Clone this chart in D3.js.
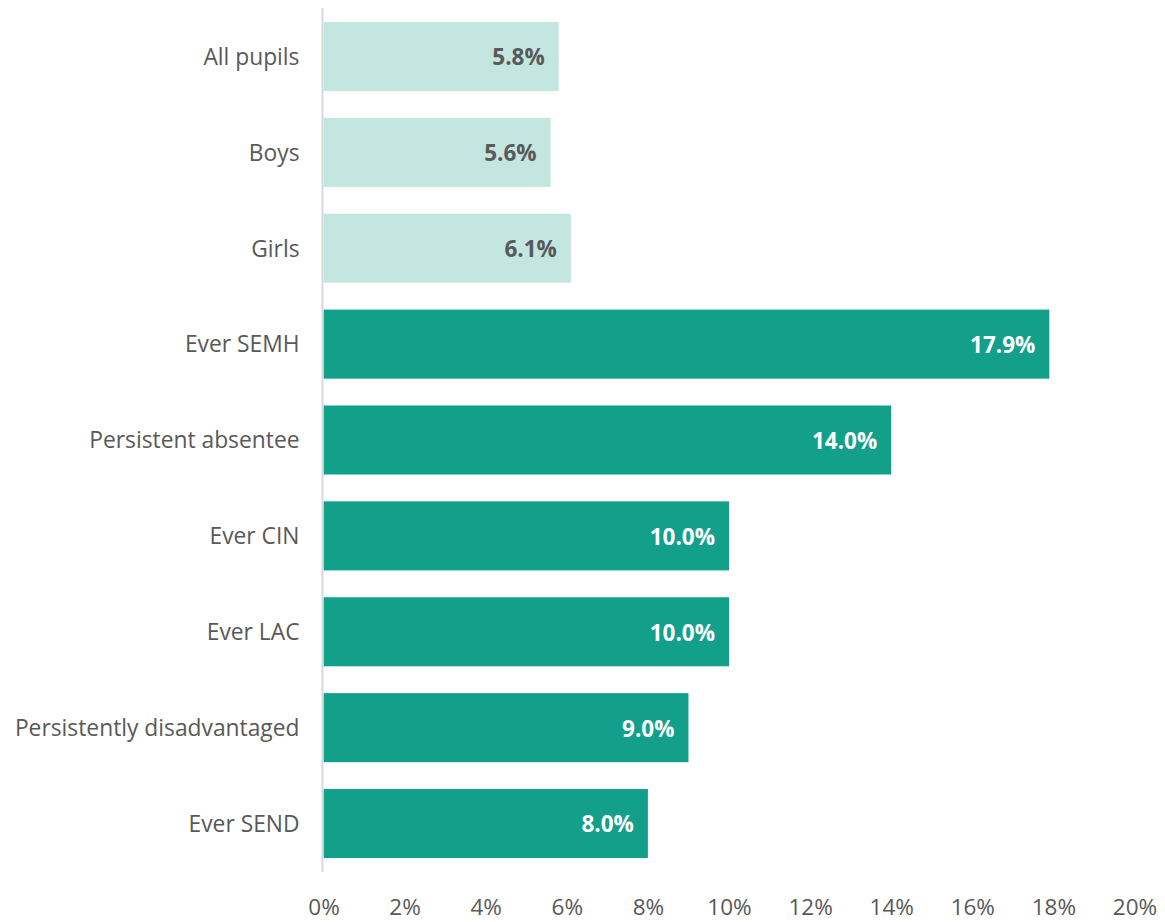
<!DOCTYPE html>
<html>
<head>
<meta charset="utf-8">
<script src="https://cdn.jsdelivr.net/npm/d3@7"></script>
<style>
  html, body { margin: 0; padding: 0; background: #fff; }
  svg { display: block; font-family: "Open Sans", Lato, sans-serif; }
</style>
</head>
<body>
<svg id="chart" width="1165" height="922"></svg>
<script>
// Share of pupils in each group (percent)
const categories = ["All pupils", "Boys", "Girls", "Ever SEMH", "Persistent absentee",
                    "Ever CIN", "Ever LAC", "Persistently disadvantaged", "Ever SEND"];
const values = [5.8, 5.6, 6.1, 17.9, 14.0, 10.0, 10.0, 9.0, 8.0];
const groups = ["all", "all", "all", "cohort", "cohort", "cohort", "cohort", "cohort", "cohort"];
const tickValues = [0, 2, 4, 6, 8, 10, 12, 14, 16, 18, 20];

const fillColor = { all: "#C4E6E0", cohort: "#13A08A" };
const labelColor = { all: "#595959", cohort: "#FFFFFF" };
const fontStack = "'Open Sans', Lato, sans-serif";

const svg = d3.select("#chart");
const x0 = 323.5, x1 = 1134.5;

const x = d3.scaleLinear().domain([0, 20]).range([x0, x1]);
const y = d3.scaleBand().domain(categories).range([8.5, 871.5])
  .paddingInner(0.28).paddingOuter(0.14);

const rows = categories.map((c, i) => ({ cat: c, val: values[i], grp: groups[i] }));

// Bars
svg.append("g").selectAll("rect").data(rows).join("rect")
  .attr("x", x(0))
  .attr("y", d => y(d.cat))
  .attr("width", d => x(d.val) - x(0))
  .attr("height", y.bandwidth())
  .attr("fill", d => fillColor[d.grp]);

// Value labels inside the bar ends
svg.append("g").selectAll("text").data(rows).join("text")
  .attr("x", d => x(d.val) - 14)
  .attr("y", d => y(d.cat) + y.bandwidth() / 2 + 1)
  .attr("dy", "0.35em")
  .attr("text-anchor", "end")
  .attr("font-size", 22.5)
  .attr("font-weight", "bold")
  .attr("fill", d => labelColor[d.grp])
  .text(d => d.val.toFixed(1) + "%");

// Category axis
const yAxis = svg.append("g")
  .attr("transform", `translate(${x0 - 1},1)`)
  .call(d3.axisLeft(y).tickSize(0).tickPadding(23));
yAxis.select(".domain").remove();
yAxis.selectAll("text").attr("font-size", 22.8).attr("fill", "#595959")
  .attr("font-family", fontStack);

// Vertical baseline
svg.append("line")
  .attr("x1", x0 - 1).attr("x2", x0 - 1)
  .attr("y1", 8).attr("y2", 872)
  .attr("stroke", "#D9D9D9").attr("stroke-width", 2);

// Value axis
const xAxis = svg.append("g")
  .attr("transform", "translate(0,872)")
  .call(d3.axisBottom(x).tickValues(tickValues).tickSize(0).tickPadding(27)
    .tickFormat(d => d + "%"));
xAxis.select(".domain").remove();
xAxis.selectAll("text").attr("font-size", 22.5).attr("fill", "#595959")
  .attr("font-family", fontStack);
</script>
</body>
</html>
